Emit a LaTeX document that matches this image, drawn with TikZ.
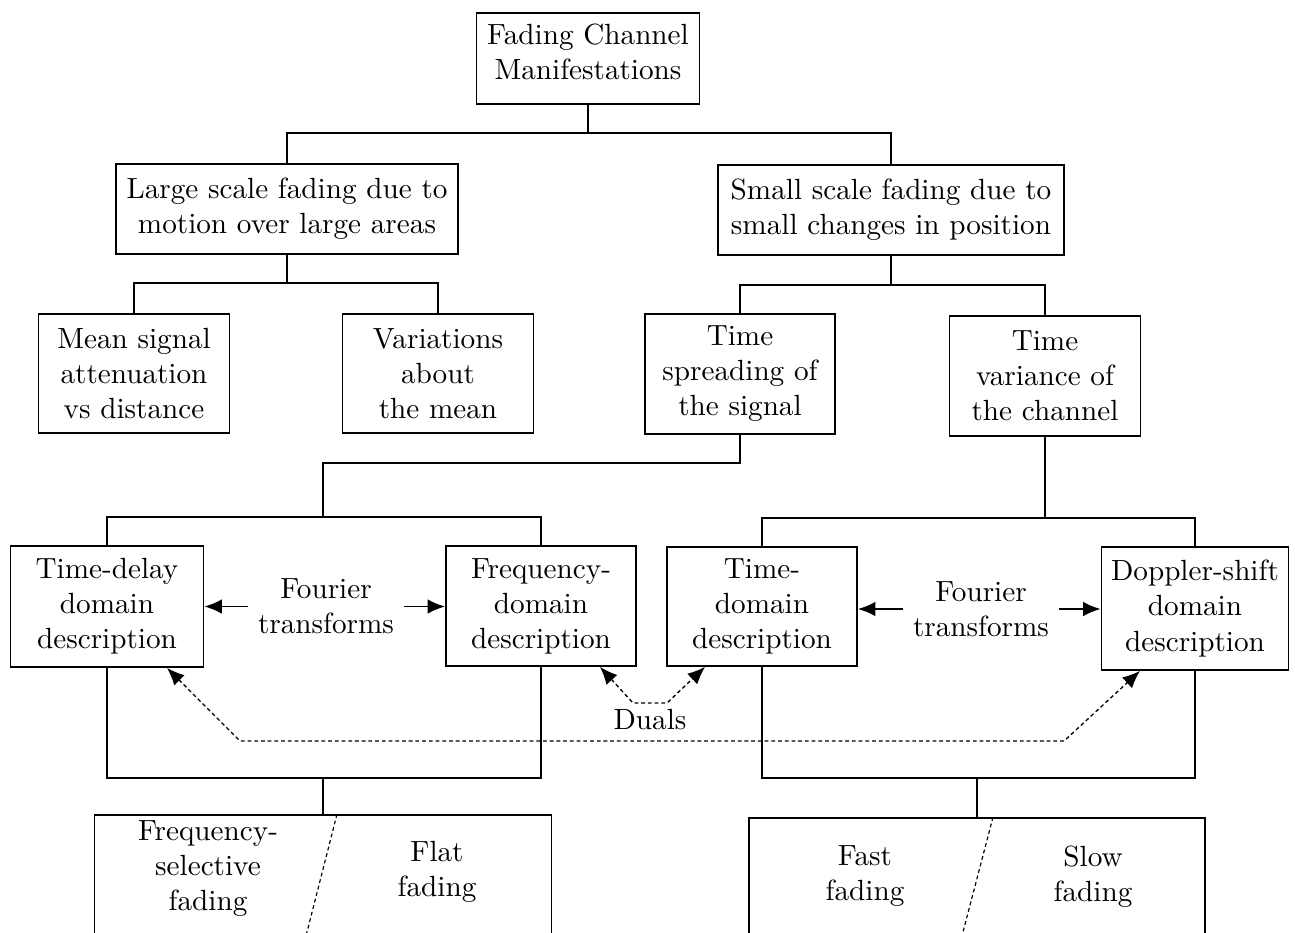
\documentclass[tikz,border=0pt]{standalone}
\usetikzlibrary{arrows.meta,calc}
\begin{document}
\begin{tikzpicture}[x=0.3425pt,y=-0.3425pt,
  box/.style={draw,line width=0.6pt,align=center,inner sep=0pt},
  sz/.style n args={2}{minimum width=#1*0.3425pt,minimum height=#2*0.3425pt},
  lbl/.style={align=center,inner sep=0pt},
  conn/.style={line width=0.55pt},
  arr/.style={line width=0.6pt,-{Latex[length=6pt,width=5pt]}},
  dualarr/.style={line width=0.45pt,dash pattern=on 1.3pt off 1pt,{Latex[length=6pt,width=5pt]}-{Latex[length=6pt,width=5pt]}},
  dashline/.style={line width=0.4pt,dash pattern=on 1.3pt off 1pt}]
\useasboundingbox (0,0) rectangle (1295,932);
\clip (0,0) rectangle (1295,932);

% boxes
\node[box,sz={223}{91}] (top) at (588,58.5) {};
\node[lbl] (toptxt) at (588,52) {Fading Channel\\Manifestations};
\node[box,sz={342}{90}] (large) at (287,209) {Large scale fading due to\\motion over large areas};
\node[box,sz={346}{90}] (small) at (891,210) {Small scale fading due to\\small changes in position};
\node[box,sz={191}{119}] (mean) at (134,373.5) {Mean signal\\attenuation\\vs distance};
\node[box,sz={191}{119}] (var) at (438,373.5) {Variations\\about\\the mean};
\node[box,sz={190}{120}] (tspread) at (740,374) {Time\\spreading of\\the signal};
\node[box,sz={191}{120}] (tvar) at (1045,376) {Time\\variance of\\the channel};
\node[box,sz={193}{121}] (tdelay) at (107,606.5) {Time-delay\\domain\\description};
\node[box,sz={190}{120}] (freq) at (541,606) {Frequency-\\domain\\description};
\node[box,sz={190}{119}] (tdom) at (762,606.5) {Time-\\domain\\description};
\node[box,sz={187}{123}] (dopp) at (1195,608.5) {Doppler-shift\\domain\\description};

\node[lbl,inner xsep=3.4pt] (four1) at (326,606.5) {Fourier\\transforms};
\node[lbl,inner xsep=3.4pt] (four2) at (981,609) {Fourier\\transforms};
\node[lbl] (duals) at (650,720) {Duals};

\node[box,sz={457}{150}] (bl) at (323,890) {};
\node[box,sz={456}{150}] (br) at (977,893) {};
\node[lbl] (fsel) at (208,869) {Frequency-\\selective\\fading};
\node[lbl] (flat) at (437,871.5) {Flat\\fading};
\node[lbl] (fast) at (865,876.5) {Fast\\fading};
\node[lbl] (slow) at (1093,876.5) {Slow\\fading};

% junctions
\coordinate (j1) at (588,133);
\coordinate (j2) at (287,283);
\coordinate (j3) at (891,285);
\coordinate (j4b) at (323,463);
\coordinate (j4c) at (323,517);
\coordinate (j5) at (1045,518);
\coordinate (j6) at (323,778);
\coordinate (j7) at (977,778);
\coordinate (du1) at (633,703);
\coordinate (du2) at (667,703);
\coordinate (dl1) at (240,741);
\coordinate (dl2) at (1064,741);
\coordinate (sl1) at (303.7,945);
\coordinate (sr1) at (959.6,945);

% tree connectors
\draw[conn] (top.south) -- (j1) -| (large.north);
\draw[conn] (j1) -| (small.north);
\draw[conn] (large.south) -- (j2) -| (mean.north);
\draw[conn] (j2) -| (var.north);
\draw[conn] (small.south) -- (j3) -| (tspread.north);
\draw[conn] (j3) -| (tvar.north);
\draw[conn] (tspread.south) |- (j4b) -- (j4c);
\draw[conn] (j4c) -| (tdelay.north);
\draw[conn] (j4c) -| (freq.north);
\draw[conn] (tvar.south) -- (j5) -| (tdom.north);
\draw[conn] (j5) -| (dopp.north);
\draw[conn] (tdelay.south) |- (j6) -| (freq.south);
\draw[conn] (j6) -- (bl.north);
\draw[conn] (tdom.south) |- (j7) -| (dopp.south);
\draw[conn] (j7) -- (br.north);

% Fourier arrows
\draw[arr] (four1.west) -- (four1.west -| tdelay.east);
\draw[arr] (four1.east) -- (four1.east -| freq.west);
\draw[arr] (four2.west) -- (four2.west -| tdom.east);
\draw[arr] (four2.east) -- (four2.east -| dopp.west);

% duals
\draw[dualarr] ($(freq.south)+(59,0)$) -- (du1) -- (du2) -- ($(tdom.south)+(-57,0)$);
\draw[dualarr] ($(tdelay.south)+(60,0)$) -- (dl1) -- (dl2) -- ($(dopp.south)+(-55,0)$);

% split lines in bottom boxes
\draw[dashline] ($(bl.north)+(14,0)$) -- (sl1);
\draw[dashline] ($(br.north)+(16,0)$) -- (sr1);
\end{tikzpicture}
\end{document}
